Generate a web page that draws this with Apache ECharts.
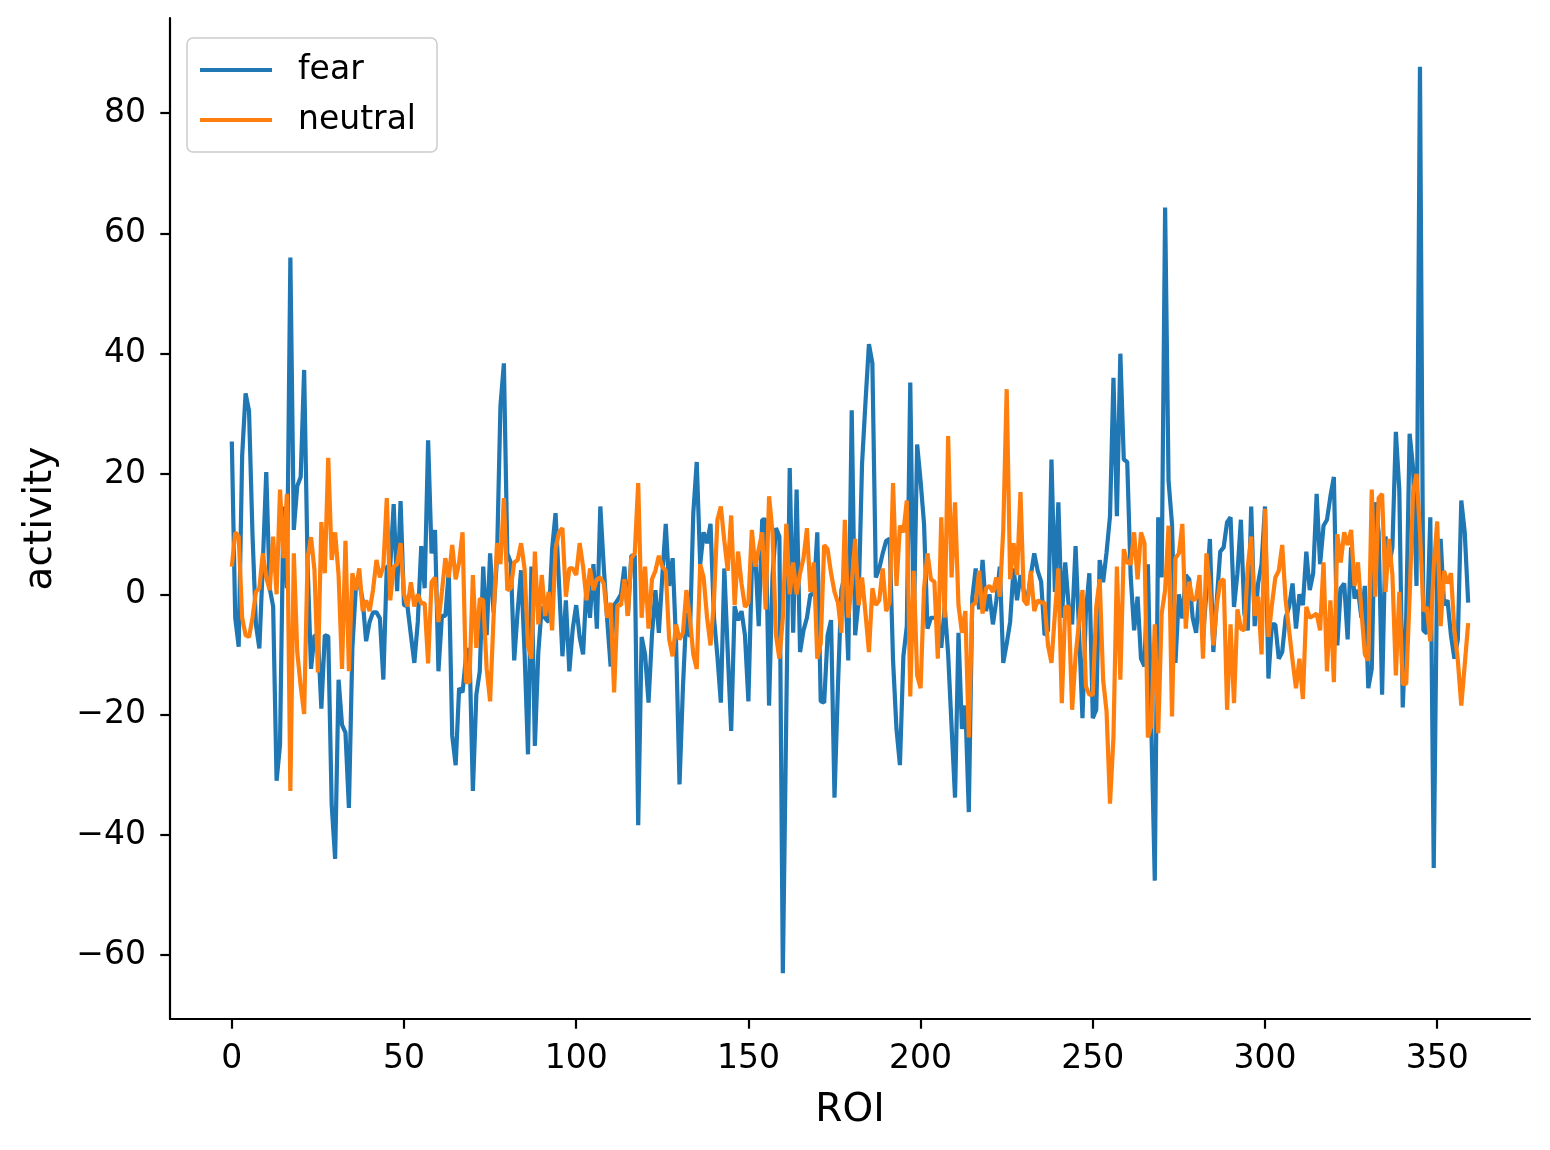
<!DOCTYPE html>
<html><head><meta charset="utf-8">
<script src="https://cdn.jsdelivr.net/npm/echarts@6/dist/echarts.min.js"></script>
<style>html,body{margin:0;padding:0;background:#fff}#c{width:1550px;height:1150px}</style>
</head><body><div id="c"></div>
<script>
const fear = [
25.4,-4,-8.7,23,33.4,30.5,10,-5,-9,5,
20.3,1,-2,-31,-25,14.6,1,56,10.7,18,
19.5,37.3,5,-12.4,-6.8,-7,-19,-6.8,-7,-35,
-44,-14.2,-21.7,-23,-35.5,-9,1,2,-1,-7.8,
-4.6,-3,-3,-4,-14.2,4.6,4.6,15,0.5,15.5,
-1.8,-2,-6.8,-11.4,-4.6,8,1,25.6,6.8,10.7,
-12.8,-3.6,-3.6,3.9,-23.5,-28.4,-15.6,-16.3,-10.3,-9,
-32.7,-16.7,-12.8,4.6,-6.8,6.8,-3,6,31.3,38.4,
6.8,5.3,-11,-2.8,4,-9.6,-26.6,4.6,-25.2,-9.6,
-2,-4,-4.6,7.5,13.5,2,-10.3,-1,-12.8,-5.7,
-1.8,-7.1,-10,1.8,-3.9,5,-5.7,14.6,4.6,-4.3,
-12,-1.8,-1,0,4.6,-3.6,6.4,6.5,-38.4,-7.1,
-10,-18,-6.8,0.7,-6.4,3,11.7,1.4,6,-8,
-31.6,-15.3,-3,-7.1,13.5,22,5,10.3,8.5,11.7,
-3.9,-10.3,-18,4.3,-9.6,-22.7,-2,-4.3,-2.8,-6.8,
-17.8,4.6,6.4,-5.3,12.4,12.4,-18.5,3,11,9.6,
-63,-20,21,-6.4,17.4,-9.6,-6,-3.9,0,0,
10.3,-17.8,-18,-6.8,-4.3,-33.8,-15.3,0.7,3.2,-11,
30.6,-6.8,-1,21.7,32,41.6,38.4,2.8,4.3,6.8,
8.9,9.2,-11,-22.4,-28.4,-10.3,-5.3,35.2,-6,24.9,
18.8,11.7,-5.7,-3.9,-3.9,-4,-8.9,-2,-10,-22,
-33.8,-6.4,-22.4,-18.5,-36.2,-0.7,4.3,-2.5,5.7,-2.8,
0,-5,-1,4.6,-11.4,-8.2,-4.6,4.3,-1,3.2,
0.4,-1,3.2,6.8,3.9,2.1,-6.8,-6,22.4,0.4,
15.3,-3.9,5.3,-2,-5,8,-6,-20.6,-3,3.5,
-20.6,-19.2,5.7,2,7,13,36,13,40,22.4,
22,3,-6,-0.4,-10.7,-12,5,-22,-47.6,12.8,
2.8,64.3,18.8,11.7,-11.4,0,-4,3.2,2.5,-3.9,
-6.4,0.7,-7.1,0.4,9.2,-9.6,-1,7.1,7.8,12,
12.8,-2.1,3.5,12.4,-3.2,-6,14.6,-5.3,1.8,5,
14.6,-14,-5,-5,-10.7,-9.6,-3.9,-2.1,1.8,-5.7,
0,-1.8,7.1,0.7,3.5,16.7,5,11.4,12.4,16.3,
19.5,-8.5,1,1.8,-7.5,7.8,-0.7,0.7,-3.9,1.4,
-15.6,-12.4,15.3,10.3,-16.7,9.6,4.6,7.8,27,17.4,
-18.8,-4,26.7,21,1.4,87.7,-6,-6.5,12.8,-45.5,
5.3,9.2,-1.8,-1,-6.8,-10.7,-7.5,15.6,10.3,-1.4
];
const neutral = [
4.6,10.3,9.6,-3.9,-6.8,-7.1,-3.9,0.4,1,6.8,
2.8,0.7,9.6,0,17.4,6,16.7,-32.7,6.8,-9.6,
-15.3,-19.9,6,9.5,4,-13,12,3.5,22.7,5.7,
10.3,3.2,-12.4,8.9,-12.8,3.5,0.7,4.3,-2.8,-1,
-2.8,0.7,5.7,2.8,4.6,16,-1,4.6,5,8.5,
0,-2,2,-2,0,-1.5,-1.5,-11.5,2,2.8,
-4.6,0.4,6,2.8,8.2,2.5,5.3,10.3,-14.6,-14.6,
3.2,-8.9,-0.7,-1,-12.4,-17.8,-3.9,8.5,5,16,
0.7,1,5.3,5.7,8.5,4.3,-8.5,-10.7,7.1,-5,
3.2,-3.6,0.4,-6,7.5,10.3,11,-0.4,4.3,4.3,
3.2,8.5,4.6,-1,4.3,0.7,2.5,2.8,1.8,-3.9,
-1.4,-16.3,-1.8,-1.8,2.5,-3.6,6,6.8,18.5,-3.9,
4.6,-5.7,2.5,3.9,6.4,4.6,3.9,-7.5,-10.3,-5,
-7.5,-6.4,0.7,-3.9,-10,-12.4,5,2.8,-3.9,-8.5,
-1,12.4,14.6,8.9,3.9,13.1,-1.8,7.1,1.8,-2.1,
-1.4,10.7,4.6,7.5,10.3,-2.5,16.3,10.3,-6.8,-10.7,
-3.9,11.7,0,5.3,0,3.5,6,11,0.4,5.3,
-10.7,-8.2,8.2,7.5,3.5,0.4,-1.4,-6.4,12.4,-3.9,
1.8,9.2,-1.8,2.8,-3.2,-9.6,1,-1.8,-1,4.3,
-2.8,-1.4,18.5,1.4,11.4,10.3,15.6,-17,3.9,-13.5,
-15.6,1,6.8,2.5,2.1,-10.7,12.8,-3.9,26.3,2.8,
15.3,-1.8,-6.4,-2.8,-23.8,-1.8,-1.4,3.9,-3.2,1,
1.4,0.4,2.8,-0.4,10.7,34.1,2.5,8.5,3.2,17,
-1,-1.8,3.9,-2.8,-1,-1.4,-1.4,-8.5,-11.4,-3.2,
4.3,-18.1,-2.1,-2.1,-19.2,-10.3,-4.6,0.7,-15.3,-16.7,
-16.7,-2.1,2.5,-14.2,-19.5,-34.8,-23.8,4.6,-14.2,7.5,
5.3,5,10.3,2.5,10.3,8.5,-23.8,-21.7,-5,-23.1,
-3.2,0.7,11.4,-20.3,6,6.8,11.7,-5.7,2.1,-1,
-0.7,3.2,-10.7,6.8,1,-8.5,-1.8,2.1,2.5,-19.2,
-5,-18.1,-2.5,-5.7,-6,4.6,9.6,-3.6,-0.4,-10,
14.2,-7.1,-1.8,2.8,3.9,8.2,-1,-6,-11,-15.6,
-10.7,-17.4,-2.1,-3.9,-3.6,-3.2,-6,5.3,-12.8,-1,
-14.6,10,5.3,10.3,8.2,10.7,1.4,5.3,-2.8,-10,
-11,17.4,-0.4,16,16.7,0.4,9.2,3.2,-13.5,0.4,
-14.9,-14.9,-0.4,17,20,10.3,-2.8,-2.1,-7.8,4.6,
12.1,-5.3,3.9,1.8,3.5,-6,-11,-18.5,-11.7,-4.8
];
const roi = fear.map((_, i) => i);
const xTicks = [0, 50, 100, 150, 200, 250, 300, 350];
const yTicks = [-60, -40, -20, 0, 20, 40, 60, 80];
const seriesNames = ['fear', 'neutral'];

const FONT = 'DejaVu Sans';
const fmt = v => String(v).replace('-', '\u2212');
const chart = echarts.init(document.getElementById('c'), null, {renderer: 'canvas'});
const tickStyle = {show: true, inside: false, length: 9.7, lineStyle: {color: '#000', width: 2.2}};
const axisLine = {show: true, onZero: false, lineStyle: {color: '#000', width: 2.2}};
chart.setOption({
  animation: false,
  backgroundColor: '#fff',
  grid: {left: 170, right: 20, top: 18, bottom: 131, containLabel: false},
  legend: {
    orient: 'vertical', left: 187, top: 38,
    padding: [15, 21, 15, 13],
    backgroundColor: 'rgba(255,255,255,0.8)',
    borderColor: '#cccccc', borderWidth: 1.5, borderRadius: 6,
    itemWidth: 72, itemHeight: 4, itemGap: 16,
    icon: 'rect',
    textStyle: {fontFamily: FONT, fontSize: 33, color: '#000', lineHeight: 34, padding: [0, 0, 0, 21]},
    data: seriesNames
  },
  xAxis: {
    type: 'value', min: -17.95, max: 376.95,
    name: 'ROI', nameLocation: 'middle', nameGap: 72,
    nameTextStyle: {color: '#000', fontFamily: FONT, fontSize: 39},
    axisLine: axisLine,
    splitLine: {show: false},
    axisTick: Object.assign({}, tickStyle, {customValues: xTicks}),
    axisLabel: {customValues: xTicks, formatter: fmt, fontFamily: FONT, fontSize: 33, color: '#000', margin: 24}
  },
  yAxis: {
    type: 'value', min: -70.6, max: 95.8,
    name: 'activity', nameLocation: 'middle', nameGap: 110, nameRotate: 90,
    nameTextStyle: {color: '#000', fontFamily: FONT, fontSize: 39},
    axisLine: axisLine,
    splitLine: {show: false},
    axisTick: Object.assign({}, tickStyle, {customValues: yTicks}),
    axisLabel: {customValues: yTicks, formatter: fmt, fontFamily: FONT, fontSize: 33, color: '#000', margin: 24}
  },
  series: [
    {name: seriesNames[0], type: 'line', data: roi.map(i => [i, fear[i]]), showSymbol: false, symbol: 'none',
     lineStyle: {color: '#1f77b4', width: 4.2}, itemStyle: {color: '#1f77b4'}},
    {name: seriesNames[1], type: 'line', data: roi.map(i => [i, neutral[i]]), showSymbol: false, symbol: 'none',
     lineStyle: {color: '#ff7f0e', width: 4.2}, itemStyle: {color: '#ff7f0e'}}
  ]
});
</script></body></html>
